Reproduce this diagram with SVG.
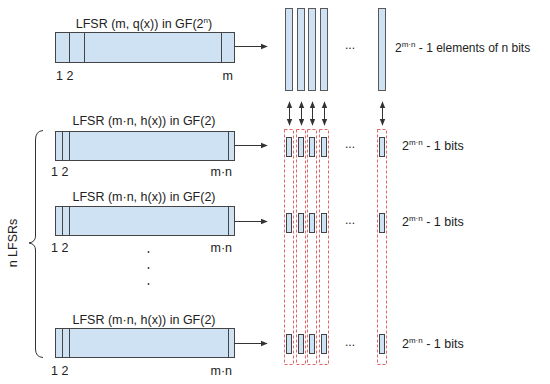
<svg xmlns="http://www.w3.org/2000/svg" width="550" height="384" viewBox="0 0 550 384">
<style>
text{font-family:"Liberation Sans",Arial,sans-serif;font-size:12px;fill:#222}
.lbl{font-size:12.5px}
.bl{font-size:12.5px}
.box{fill:#cfe2f3;stroke:#444;stroke-width:1}
.ln{stroke:#444;stroke-width:1}
.col{fill:#cfe2f3;stroke:#595959;stroke-width:1}
.cell{fill:#cfe2f3;stroke:#444;stroke-width:1}
.dash{fill:none;stroke:#e06666;stroke-width:1;stroke-dasharray:3,2}
.arr{stroke:#333;stroke-width:1;fill:none}
.sup{font-size:8px}
</style>
<defs>
<marker id="ah" viewBox="0 0 10 10" refX="9" refY="5" markerWidth="7" markerHeight="7" orient="auto-start-reverse" markerUnits="userSpaceOnUse">
<path d="M0,1 L10,5 L0,9 z" fill="#333"/>
</marker>
</defs>
<g id="lfsr-top">
<rect class="box" x="55.5" y="32.5" width="179" height="30"/>
<line class="ln" x1="69.5" y1="32.5" x2="69.5" y2="62.5"/>
<line class="ln" x1="84.5" y1="32.5" x2="84.5" y2="62.5"/>
<line class="ln" x1="221.5" y1="32.5" x2="221.5" y2="62.5"/>
<text class="lbl" x="144" y="28" text-anchor="middle">LFSR (m, q(x)) in GF(2<tspan class="sup" dy="-5">n</tspan><tspan dy="5">)</tspan></text>
<text class="lbl" x="56" y="80">1 2</text>
<text class="lbl" x="233" y="80" text-anchor="end">m</text>
</g>
<g id="lfsr-1">
<rect class="box" x="55.5" y="131.5" width="179" height="29"/>
<line class="ln" x1="62.5" y1="131.5" x2="62.5" y2="160.5"/>
<line class="ln" x1="69.5" y1="131.5" x2="69.5" y2="160.5"/>
<line class="ln" x1="228.5" y1="131.5" x2="228.5" y2="160.5"/>
<text class="lbl" x="144" y="125" text-anchor="middle">LFSR (m·n, h(x)) in GF(2)</text>
<text class="lbl" x="51" y="176">1 2</text>
<text class="lbl" x="232" y="176" text-anchor="end">m·n</text>
</g>
<g id="lfsr-2">
<rect class="box" x="55.5" y="206.5" width="179" height="29"/>
<line class="ln" x1="62.5" y1="206.5" x2="62.5" y2="235.5"/>
<line class="ln" x1="69.5" y1="206.5" x2="69.5" y2="235.5"/>
<line class="ln" x1="228.5" y1="206.5" x2="228.5" y2="235.5"/>
<text class="lbl" x="144" y="201" text-anchor="middle">LFSR (m·n, h(x)) in GF(2)</text>
<text class="lbl" x="51" y="252">1 2</text>
<text class="lbl" x="232" y="252" text-anchor="end">m·n</text>
</g>
<g id="lfsr-n">
<rect class="box" x="55.5" y="328.5" width="179" height="29"/>
<line class="ln" x1="62.5" y1="328.5" x2="62.5" y2="357.5"/>
<line class="ln" x1="69.5" y1="328.5" x2="69.5" y2="357.5"/>
<line class="ln" x1="228.5" y1="328.5" x2="228.5" y2="357.5"/>
<text class="lbl" x="144" y="324" text-anchor="middle">LFSR (m·n, h(x)) in GF(2)</text>
<text class="lbl" x="51" y="375">1 2</text>
<text class="lbl" x="232" y="375" text-anchor="end">m·n</text>
</g>
<g id="vdots">
<circle cx="148.5" cy="252" r="0.9" fill="#333"/>
<circle cx="148.5" cy="268" r="0.9" fill="#333"/>
<circle cx="148.5" cy="284" r="0.9" fill="#333"/>
</g>
<g id="brace">
<path class="arr" d="M43,130.5 Q35.5,131 35.5,140 L35.5,236 Q35.5,242 29,243 Q35.5,244 35.5,250 L35.5,349 Q35.5,357 43,357.5"/>
<text class="lbl" transform="translate(17,243) rotate(-90)" text-anchor="middle">n LFSRs</text>
</g>
<g id="elements">
<rect class="col" x="285.5" y="8.5" width="7" height="82"/>
<rect class="col" x="297.5" y="8.5" width="7" height="82"/>
<rect class="col" x="308.5" y="8.5" width="7" height="82"/>
<rect class="col" x="320.5" y="8.5" width="7" height="82"/>
<rect class="col" x="378.5" y="8.5" width="7" height="82"/>
<text x="350" y="49" text-anchor="middle">...</text>
<text x="395" y="52">2<tspan class="sup" dy="-5">m·n</tspan><tspan dy="5"> - 1 elements of n bits</tspan></text>
</g>
<g id="bits">
<rect class="cell" x="286.5" y="137.5" width="5" height="19"/>
<rect class="cell" x="298.5" y="137.5" width="5" height="19"/>
<rect class="cell" x="309.5" y="137.5" width="5" height="19"/>
<rect class="cell" x="321.5" y="137.5" width="5" height="19"/>
<rect class="cell" x="379.5" y="137.5" width="5" height="19"/>
<rect class="cell" x="286.5" y="213.5" width="5" height="19"/>
<rect class="cell" x="298.5" y="213.5" width="5" height="19"/>
<rect class="cell" x="309.5" y="213.5" width="5" height="19"/>
<rect class="cell" x="321.5" y="213.5" width="5" height="19"/>
<rect class="cell" x="379.5" y="213.5" width="5" height="19"/>
<rect class="cell" x="286.5" y="334.5" width="5" height="19"/>
<rect class="cell" x="298.5" y="334.5" width="5" height="19"/>
<rect class="cell" x="309.5" y="334.5" width="5" height="19"/>
<rect class="cell" x="321.5" y="334.5" width="5" height="19"/>
<rect class="cell" x="379.5" y="334.5" width="5" height="19"/>
<rect class="dash" x="284.5" y="129.5" width="9" height="235"/>
<rect class="dash" x="296.5" y="129.5" width="9" height="235"/>
<rect class="dash" x="307.5" y="129.5" width="9" height="235"/>
<rect class="dash" x="319.5" y="129.5" width="9" height="235"/>
<rect class="dash" x="377.5" y="129.5" width="9" height="235"/>
<text x="350" y="148" text-anchor="middle">...</text>
<text x="350" y="224" text-anchor="middle">...</text>
<text x="350" y="346" text-anchor="middle">...</text>
<text class="bl" x="402" y="150">2<tspan class="sup" dy="-5">m·n</tspan><tspan dy="5"> - 1 bits</tspan></text>
<text class="bl" x="402" y="226">2<tspan class="sup" dy="-5">m·n</tspan><tspan dy="5"> - 1 bits</tspan></text>
<text class="bl" x="402" y="348">2<tspan class="sup" dy="-5">m·n</tspan><tspan dy="5"> - 1 bits</tspan></text>
</g>
<g id="connectors">
<line class="arr" x1="234.5" y1="46.5" x2="267" y2="46.5" marker-end="url(#ah)"/>
<line class="arr" x1="234.5" y1="145.5" x2="267" y2="145.5" marker-end="url(#ah)"/>
<line class="arr" x1="234.5" y1="221.5" x2="267" y2="221.5" marker-end="url(#ah)"/>
<line class="arr" x1="234.5" y1="343.5" x2="267" y2="343.5" marker-end="url(#ah)"/>
<line class="arr" x1="289.5" y1="102" x2="289.5" y2="125" marker-start="url(#ah)" marker-end="url(#ah)"/>
<line class="arr" x1="301.5" y1="102" x2="301.5" y2="125" marker-start="url(#ah)" marker-end="url(#ah)"/>
<line class="arr" x1="312.5" y1="102" x2="312.5" y2="125" marker-start="url(#ah)" marker-end="url(#ah)"/>
<line class="arr" x1="324.5" y1="102" x2="324.5" y2="125" marker-start="url(#ah)" marker-end="url(#ah)"/>
<line class="arr" x1="382.5" y1="102" x2="382.5" y2="125" marker-start="url(#ah)" marker-end="url(#ah)"/>
</g>
</svg>
